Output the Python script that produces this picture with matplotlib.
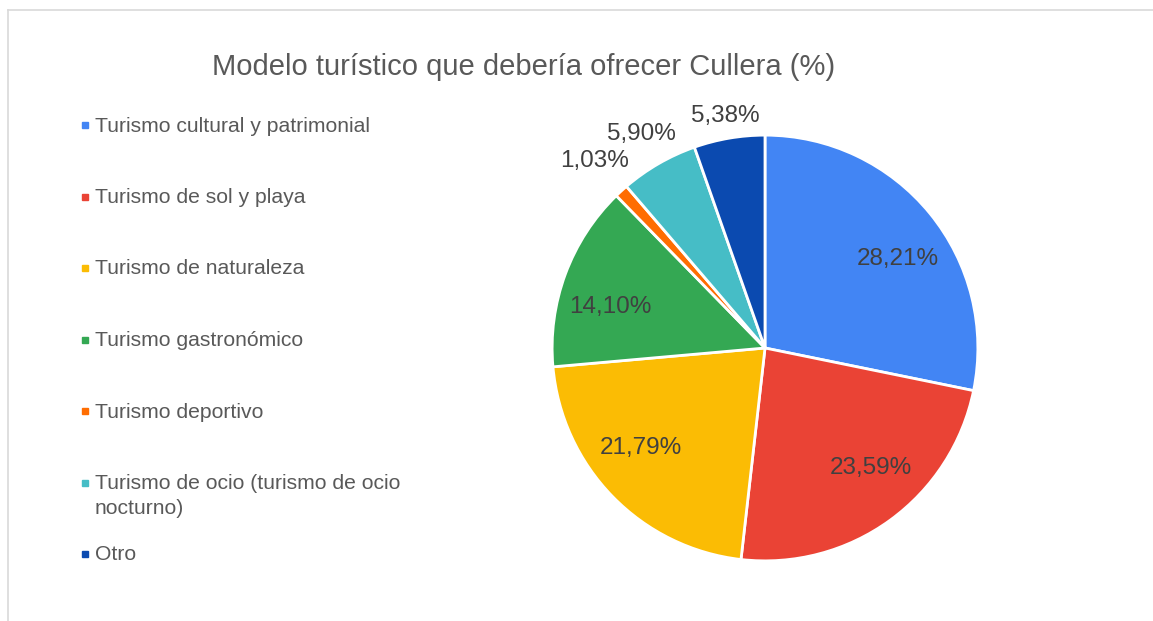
import numpy as np
import matplotlib.pyplot as plt
from matplotlib.lines import Line2D
from matplotlib.patches import Rectangle

plt.rcParams['font.family'] = ['Liberation Sans', 'DejaVu Sans']

# =================================
# Data
# =================================
title = "Modelo turístico que debería ofrecer Cullera (%)"
categories = [
    "Turismo cultural y patrimonial",
    "Turismo de sol y playa",
    "Turismo de naturaleza",
    "Turismo gastronómico",
    "Turismo deportivo",
    "Turismo de ocio (turismo de ocio\nnocturno)",
    "Otro",
]
values = [28.21, 23.59, 21.79, 14.10, 1.03, 5.90, 5.38]
colors = ["#4285F4", "#EA4335", "#FBBC04", "#34A853", "#FF6D01", "#46BDC6", "#0B4AB0"]

W, H = 1153, 621
fig = plt.figure(figsize=(W / 100, H / 100), dpi=100)

# chart frame (top and left edges visible in the reference)
fig.add_artist(Line2D([8 / W, 1], [1 - 9.5 / H, 1 - 9.5 / H], color="#d9d9d9", lw=1.2))
fig.add_artist(Line2D([8 / W, 8 / W], [0, 1 - 9.5 / H], color="#d9d9d9", lw=1.2))

fig.text(524 / W, 1 - 67 / H, title, ha="center", va="center",
         fontsize=21, color="#595959")

# =================================
# Pie
# =================================
cx, cy, R = 765, 348, 215
ax = fig.add_axes([(cx - R) / W, (H - cy - R) / H, 2 * R / W, 2 * R / H])
wedges, _ = ax.pie(values, colors=colors, startangle=90, counterclock=False,
                   wedgeprops=dict(edgecolor="white", linewidth=2))
ax.set_xlim(-1.01, 1.01)
ax.set_ylim(-1.01, 1.01)
ax.set_aspect("equal")
ax.axis("off")

for w, v in zip(wedges, values):
    mid = (w.theta1 + w.theta2) / 2
    if v >= 10:
        # inside labels sit a little closer to the horizontal
        ang = np.deg2rad(mid - 5.5 * np.sign(np.sin(np.deg2rad(2 * mid))))
        r = 0.75
    else:
        ang = np.deg2rad(mid)
        r = 1.08 + 0.16 * abs(np.cos(ang))
    ax.text(r * np.cos(ang), r * np.sin(ang), f"{v:.2f}%".replace(".", ","),
            ha="center", va="center", fontsize=17.5, color="#404040", clip_on=False)

# =================================
# Legend
# =================================
y0, step = 125, 71.5
for i, (lab, c) in enumerate(zip(categories, colors)):
    y = 1 - (y0 + i * step) / H
    fig.add_artist(Rectangle((82 / W, y - 3 / H), 6 / W, 6 / H, color=c,
                             transform=fig.transFigure))
    fig.text(95 / W, y + 8.5 / H, lab, ha="left", va="top", fontsize=15.2,
             color="#595959", linespacing=1.4)

fig.savefig("out.png", dpi=100)
